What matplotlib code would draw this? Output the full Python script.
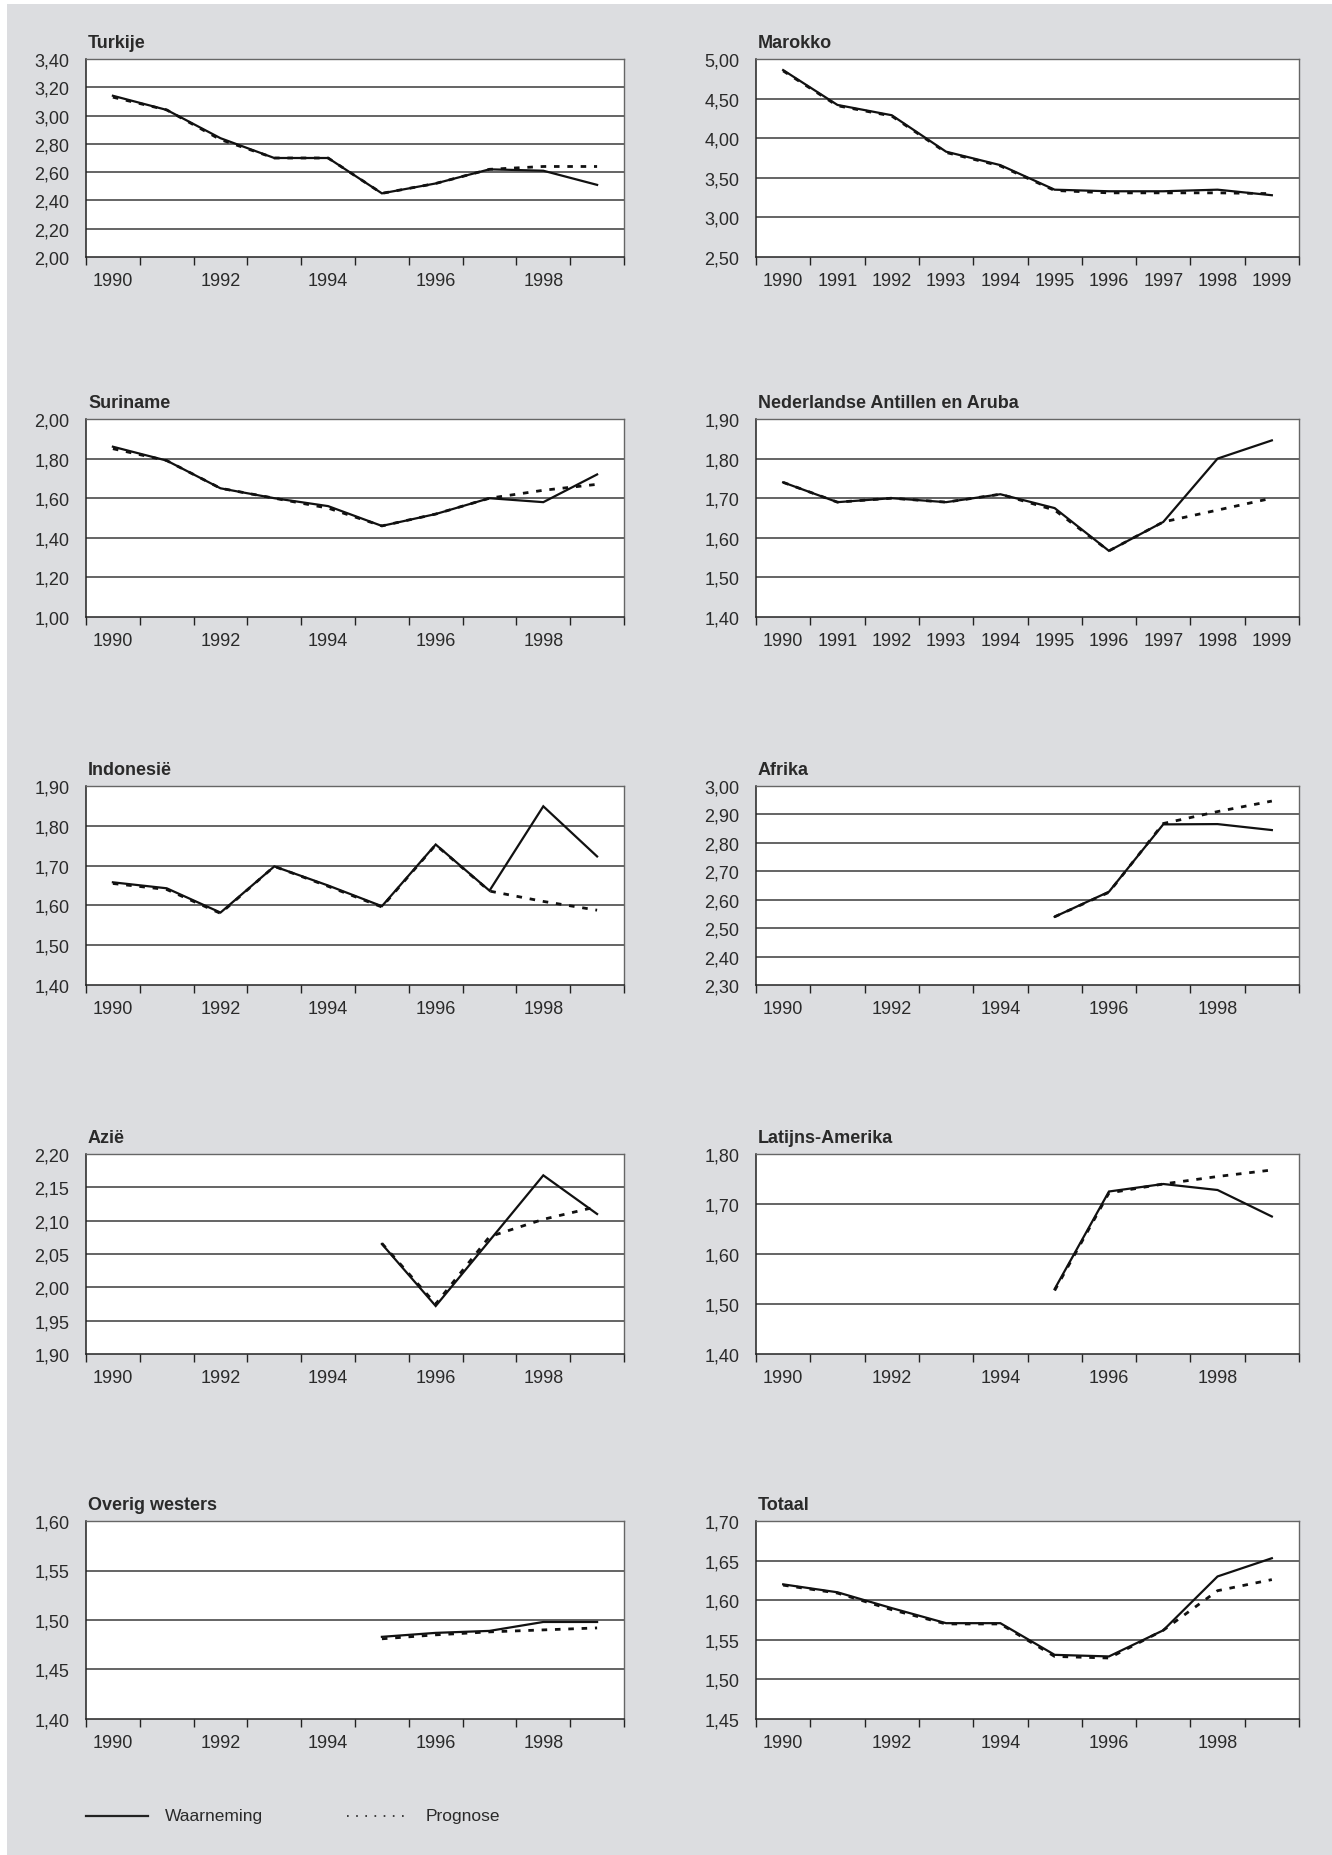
import numpy as np
import matplotlib
matplotlib.use("Agg")
import matplotlib.pyplot as plt
from matplotlib.patches import Rectangle
from matplotlib.lines import Line2D

plt.rcParams['font.family'] = ['Liberation Sans', 'DejaVu Sans']

years = [1990, 1991, 1992, 1993, 1994, 1995, 1996, 1997, 1998, 1999]
nan = np.nan

titles = ["Turkije", "Marokko", "Suriname", "Nederlandse Antillen en Aruba",
          "Indonesië", "Afrika", "Azië", "Latijns-Amerika", "Overig westers", "Totaal"]

turkije_obs = [3.14, 3.04, 2.84, 2.70, 2.70, 2.45, 2.52, 2.62, 2.61, 2.51]
turkije_prog = [3.13, 3.04, 2.83, 2.70, 2.70, 2.45, 2.52, 2.62, 2.64, 2.64]
marokko_obs = [4.86, 4.42, 4.29, 3.83, 3.66, 3.35, 3.33, 3.33, 3.35, 3.28]
marokko_prog = [4.85, 4.41, 4.28, 3.82, 3.65, 3.34, 3.31, 3.31, 3.31, 3.30]
suriname_obs = [1.86, 1.79, 1.65, 1.60, 1.56, 1.46, 1.52, 1.60, 1.58, 1.72]
suriname_prog = [1.85, 1.79, 1.65, 1.60, 1.55, 1.46, 1.52, 1.60, 1.64, 1.67]
antillen_obs = [1.74, 1.69, 1.70, 1.69, 1.71, 1.675, 1.567, 1.64, 1.80, 1.846]
antillen_prog = [1.74, 1.69, 1.70, 1.69, 1.71, 1.67, 1.567, 1.64, 1.67, 1.70]
indonesie_obs = [1.658, 1.643, 1.582, 1.698, 1.65, 1.598, 1.753, 1.637, 1.849, 1.723]
indonesie_prog = [1.655, 1.64, 1.58, 1.698, 1.648, 1.596, 1.752, 1.636, 1.61, 1.588]
afrika_obs = [nan, nan, nan, nan, nan, 2.54, 2.628, 2.865, 2.866, 2.845]
afrika_prog = [nan, nan, nan, nan, nan, 2.54, 2.626, 2.868, 2.91, 2.947]
azie_obs = [nan, nan, nan, nan, nan, 2.065, 1.972, 2.07, 2.168, 2.11]
azie_prog = [nan, nan, nan, nan, nan, 2.066, 1.975, 2.076, 2.102, 2.121]
latijns_obs = [nan, nan, nan, nan, nan, 1.53, 1.725, 1.74, 1.728, 1.675]
latijns_prog = [nan, nan, nan, nan, nan, 1.527, 1.722, 1.74, 1.755, 1.768]
overig_obs = [nan, nan, nan, nan, nan, 1.483, 1.487, 1.489, 1.498, 1.498]
overig_prog = [nan, nan, nan, nan, nan, 1.481, 1.485, 1.488, 1.490, 1.492]
totaal_obs = [1.62, 1.61, 1.59, 1.571, 1.571, 1.531, 1.529, 1.562, 1.63, 1.653]
totaal_prog = [1.619, 1.609, 1.588, 1.570, 1.570, 1.529, 1.527, 1.562, 1.612, 1.626]

obs = [turkije_obs, marokko_obs, suriname_obs, antillen_obs, indonesie_obs,
       afrika_obs, azie_obs, latijns_obs, overig_obs, totaal_obs]
prog = [turkije_prog, marokko_prog, suriname_prog, antillen_prog, indonesie_prog,
        afrika_prog, azie_prog, latijns_prog, overig_prog, totaal_prog]

ylims = [(2.00, 3.40, 0.20), (2.50, 5.00, 0.50), (1.00, 2.00, 0.20), (1.40, 1.90, 0.10),
         (1.40, 1.90, 0.10), (2.30, 3.00, 0.10), (1.90, 2.20, 0.05), (1.40, 1.80, 0.10),
         (1.40, 1.60, 0.05), (1.45, 1.70, 0.05)]
all_year_labels = [False, True, False, True, False, False, False, False, False, False]

W, H = 1332, 1856
fig = plt.figure(figsize=(W / 100, H / 100), dpi=100)
fig.patch.set_facecolor('white')
fig.patches.append(Rectangle((7 / W, 0), (W - 7) / W, 1 - 5 / H,
                             transform=fig.transFigure, facecolor='#dcdde0',
                             edgecolor='none', zorder=-10))

cols = [(86, 624), (756, 1299)]
rows = [(60, 258), (420, 618), (787, 986), (1155, 1355), (1522, 1720)]

text_col = '#2a2a2a'
for i in range(10):
    r, c = divmod(i, 2)
    x0, x1 = cols[c]
    y0, y1 = rows[r]
    ax = fig.add_axes([x0 / W, 1 - y1 / H, (x1 - x0) / W, (y1 - y0) / H])
    ax.set_facecolor('white')
    lo, hi, step = ylims[i]
    yt = np.round(np.arange(lo, hi + step / 2, step), 2)
    ax.set_ylim(lo, hi)
    ax.set_yticks(yt)
    ax.set_yticklabels([f"{v:.2f}".replace('.', ',') for v in yt])
    xs = np.arange(len(years))
    ax.set_xlim(-0.5, len(years) - 0.5)
    if all_year_labels[i]:
        ax.set_xticks(xs)
        ax.set_xticklabels([str(y) for y in years])
    else:
        ax.set_xticks(xs[::2])
        ax.set_xticklabels([str(y) for y in years[::2]])
    ax.set_xticks(np.arange(-0.5, len(years)), minor=True)
    ax.tick_params(axis='x', which='major', length=0, pad=11, labelsize=13, colors=text_col)
    ax.tick_params(axis='x', which='minor', length=6, width=1, color='#222222')
    ax.tick_params(axis='y', length=0, pad=12, labelsize=13, colors=text_col)
    for yv in yt[1:-1]:
        ax.axhline(yv, color='#3a3a3a', lw=1.1, zorder=1)
    for s in ['top', 'right']:
        ax.spines[s].set_color('#666666')
        ax.spines[s].set_linewidth(1.0)
    for s in ['left', 'bottom']:
        ax.spines[s].set_color('#222222')
        ax.spines[s].set_linewidth(1.1)
    ax.plot(xs, obs[i], color='#111111', lw=1.6, zorder=3, solid_joinstyle='miter')
    ax.plot(xs, prog[i], color='#111111', lw=2.0, linestyle=(0, (2.0, 2.8)), zorder=4)
    fig.text((x0 + 2) / W, 1 - (y0 - 12) / H, titles[i], fontsize=13, fontweight='bold',
             color='#2a2a2a', ha='left', va='baseline')

# legend
ly = 1 - 1817 / H
fig.add_artist(Line2D([86 / W, 148 / W], [ly, ly], transform=fig.transFigure,
                      color='#222222', lw=1.6))
fig.text(165 / W, ly, "Waarneming", fontsize=12.5, color=text_col, ha='left', va='center')
fig.add_artist(Line2D([347 / W, 404 / W], [ly, ly], transform=fig.transFigure,
                      color='#222222', lw=1.2, linestyle=(0, (1, 4.5))))
fig.text(426 / W, ly, "Prognose", fontsize=12.5, color=text_col, ha='left', va='center')

fig.savefig("out.png", dpi=100, facecolor=fig.get_facecolor())
